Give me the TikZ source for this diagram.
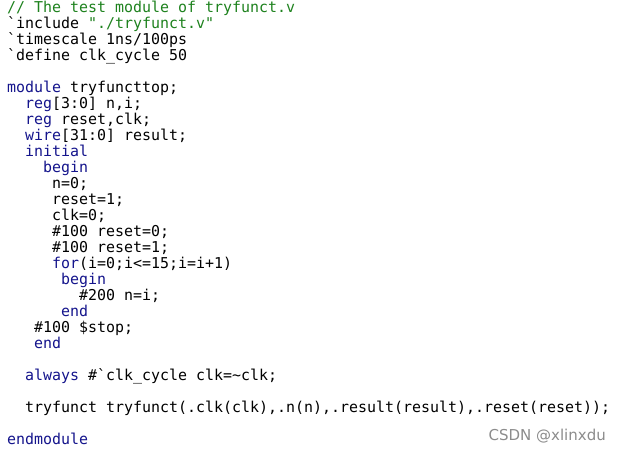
\documentclass[tikz,border=0pt]{standalone}
\usepackage{fontspec}
\setmonofont{DejaVu Sans Mono}
\setsansfont{DejaVu Sans}
\definecolor{kw}{RGB}{20,20,140}
\definecolor{cm}{RGB}{30,130,30}
\newcommand{\K}[1]{\textcolor{kw}{#1}}
\newcommand{\G}{\textasciigrave}
\begin{document}
\begin{tikzpicture}[x=1pt,y=-1pt,
  ln/.style={anchor=base west,inner sep=0pt,font=\ttfamily\fontsize{14.95}{16}\selectfont}]
\useasboundingbox[fill=white] (0,0) rectangle (620,450);
\newcommand{\cl}[4]{\node[ln] (#1) at ({7+9.0*#3},{12.5+16*#2}) {#4};}
\cl{l0}{0}{0}{\textcolor{cm}{// The test module of tryfunct.v}}
\cl{l1}{1}{0}{\G include \textcolor{cm}{"./tryfunct.v"}}
\cl{l2}{2}{0}{\G timescale 1ns/100ps}
\cl{l3}{3}{0}{\G define clk\_cycle 50}
\cl{l5}{5}{0}{\K{module} tryfuncttop;}
\cl{l6}{6}{2}{\K{reg}[3:0] n,i;}
\cl{l7}{7}{2}{\K{reg} reset,clk;}
\cl{l8}{8}{2}{\K{wire}[31:0] result;}
\cl{l9}{9}{2}{\K{initial}}
\cl{l10}{10}{4}{\K{begin}}
\cl{l11}{11}{5}{n=0;}
\cl{l12}{12}{5}{reset=1;}
\cl{l13}{13}{5}{clk=0;}
\cl{l14}{14}{5}{\#100 reset=0;}
\cl{l15}{15}{5}{\#100 reset=1;}
\cl{l16}{16}{5}{\K{for}(i=0;i<=15;i=i+1)}
\cl{l17}{17}{6}{\K{begin}}
\cl{l18}{18}{8}{\#200 n=i;}
\cl{l19}{19}{6}{\K{end}}
\cl{l20}{20}{3}{\#100 \$stop;}
\cl{l21}{21}{3}{\K{end}}
\cl{l23}{23}{2}{\K{always} \#\G clk\_cycle clk=\textasciitilde clk;}
\cl{l25}{25}{2}{tryfunct tryfunct(.clk(clk),.n(n),.result(result),.reset(reset));}
\cl{l27}{27}{0}{\K{endmodule}}
\node[anchor=base east,inner sep=0pt,text=black!45,font=\sffamily\fontsize{15}{17}\selectfont] (wm) at (606,440) {CSDN @xlinxdu};
\end{tikzpicture}
\end{document}
